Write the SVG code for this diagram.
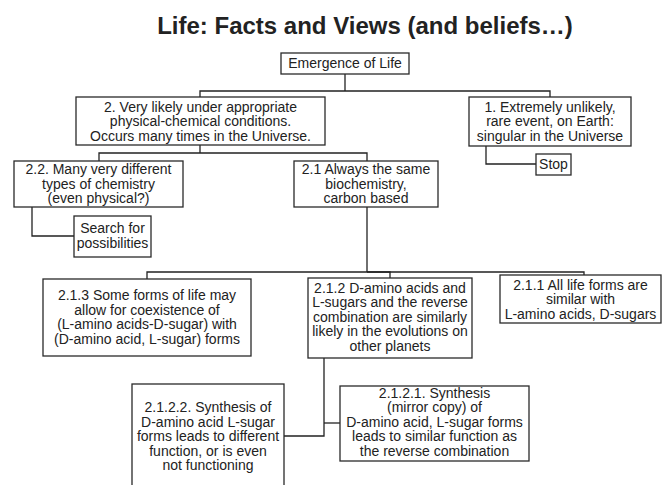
<svg xmlns="http://www.w3.org/2000/svg" width="662" height="485" viewBox="0 0 662 485">
<style>
.box{fill:#fff;stroke:#2a2a2a;stroke-width:1.3}
.t{font-family:"Liberation Sans",Arial,sans-serif;font-size:14px;fill:#222;text-anchor:middle}
.title{font-family:"Liberation Sans",Arial,sans-serif;font-size:24px;font-weight:bold;fill:#222;text-anchor:middle}
.c{fill:none;stroke:#222;stroke-width:1.3}
</style>
<rect width="662" height="485" fill="#fff"/>
<text class="title" x="365" y="34">Life: Facts and Views (and beliefs…)</text>
<g id="connectors">
<polyline class="c" points="345,74 345,91"/>
<polyline class="c" points="200,97 200,91 550,91 550,97"/>
<polyline class="c" points="486,146 486,164 536,164"/>
<polyline class="c" points="200,145 200,153"/>
<polyline class="c" points="99,161 99,153 367,153 367,161"/>
<polyline class="c" points="32,207 32,236 74,236"/>
<polyline class="c" points="367,207 367,272"/>
<polyline class="c" points="147,279 147,272 584,272 584,275"/>
<polyline class="c" points="367,272 390,272 390,278"/>
<polyline class="c" points="324,358 324,436 284,436"/>
<polyline class="c" points="324,423 340,423"/>
</g>
<g id="n-emergence">
<rect class="box" x="281" y="53" width="128" height="21"/>
<text class="t" x="345" y="68">Emergence of Life</text>
</g>
<g id="n-2">
<rect class="box" x="76" y="97" width="249" height="48"/>
<text class="t" x="200.5" y="111.5">2. Very likely under appropriate</text>
<text class="t" x="200.5" y="126">physical-chemical conditions.</text>
<text class="t" x="200.5" y="140.5">Occurs many times in the Universe.</text>
</g>
<g id="n-1">
<rect class="box" x="469" y="97" width="162" height="49"/>
<text class="t" x="550" y="111.5">1. Extremely unlikely,</text>
<text class="t" x="550" y="126">rare event, on Earth:</text>
<text class="t" x="550" y="140.5">singular in the Universe</text>
</g>
<g id="n-stop">
<rect class="box" x="536" y="154" width="35" height="21"/>
<text class="t" x="553.5" y="169">Stop</text>
</g>
<g id="n-2-2">
<rect class="box" x="14" y="161" width="169" height="46"/>
<text class="t" x="98.5" y="174">2.2. Many very different</text>
<text class="t" x="98.5" y="188.5">types of chemistry</text>
<text class="t" x="98.5" y="203">(even physical?)</text>
</g>
<g id="n-2-1">
<rect class="box" x="294" y="161" width="144" height="46"/>
<text class="t" x="366" y="174">2.1 Always the same</text>
<text class="t" x="366" y="188.5">biochemistry,</text>
<text class="t" x="366" y="203">carbon based</text>
</g>
<g id="n-search">
<rect class="box" x="74" y="216" width="77" height="41"/>
<text class="t" x="112.5" y="232.5">Search for</text>
<text class="t" x="112.5" y="247.5">possibilities</text>
</g>
<g id="n-2-1-3">
<rect class="box" x="43" y="279" width="208" height="77"/>
<text class="t" x="147" y="300">2.1.3 Some forms of life may</text>
<text class="t" x="147" y="314.5">allow for coexistence of</text>
<text class="t" x="147" y="329">(L-amino acids-D-sugar) with</text>
<text class="t" x="147" y="343.5">(D-amino acid, L-sugar) forms</text>
</g>
<g id="n-2-1-2">
<rect class="box" x="308" y="278" width="164" height="80"/>
<text class="t" x="390" y="292.5">2.1.2 D-amino acids and</text>
<text class="t" x="390" y="307">L-sugars and the reverse</text>
<text class="t" x="390" y="321.5">combination are similarly</text>
<text class="t" x="390" y="336">likely in the evolutions on</text>
<text class="t" x="390" y="350.5">other planets</text>
</g>
<g id="n-2-1-1">
<rect class="box" x="500" y="275" width="161" height="48"/>
<text class="t" x="580.5" y="289.5">2.1.1 All life forms are</text>
<text class="t" x="580.5" y="304">similar with</text>
<text class="t" x="580.5" y="318.5">L-amino acids, D-sugars</text>
</g>
<g id="n-2-1-2-1">
<rect class="box" x="340" y="386" width="189" height="75"/>
<text class="t" x="434.5" y="397.5">2.1.2.1. Synthesis</text>
<text class="t" x="434.5" y="412">(mirror copy) of</text>
<text class="t" x="434.5" y="426.5">D-amino acid, L-sugar forms</text>
<text class="t" x="434.5" y="441">leads to similar function as</text>
<text class="t" x="434.5" y="455.5">the reverse combination</text>
</g>
<g id="n-2-1-2-2">
<rect class="box" x="132" y="384" width="152" height="110"/>
<text class="t" x="208" y="412">2.1.2.2. Synthesis of</text>
<text class="t" x="208" y="426.5">D-amino acid L-sugar</text>
<text class="t" x="208" y="441">forms leads to different</text>
<text class="t" x="208" y="455.5">function, or is even</text>
<text class="t" x="208" y="470">not functioning</text>
</g>
</svg>
